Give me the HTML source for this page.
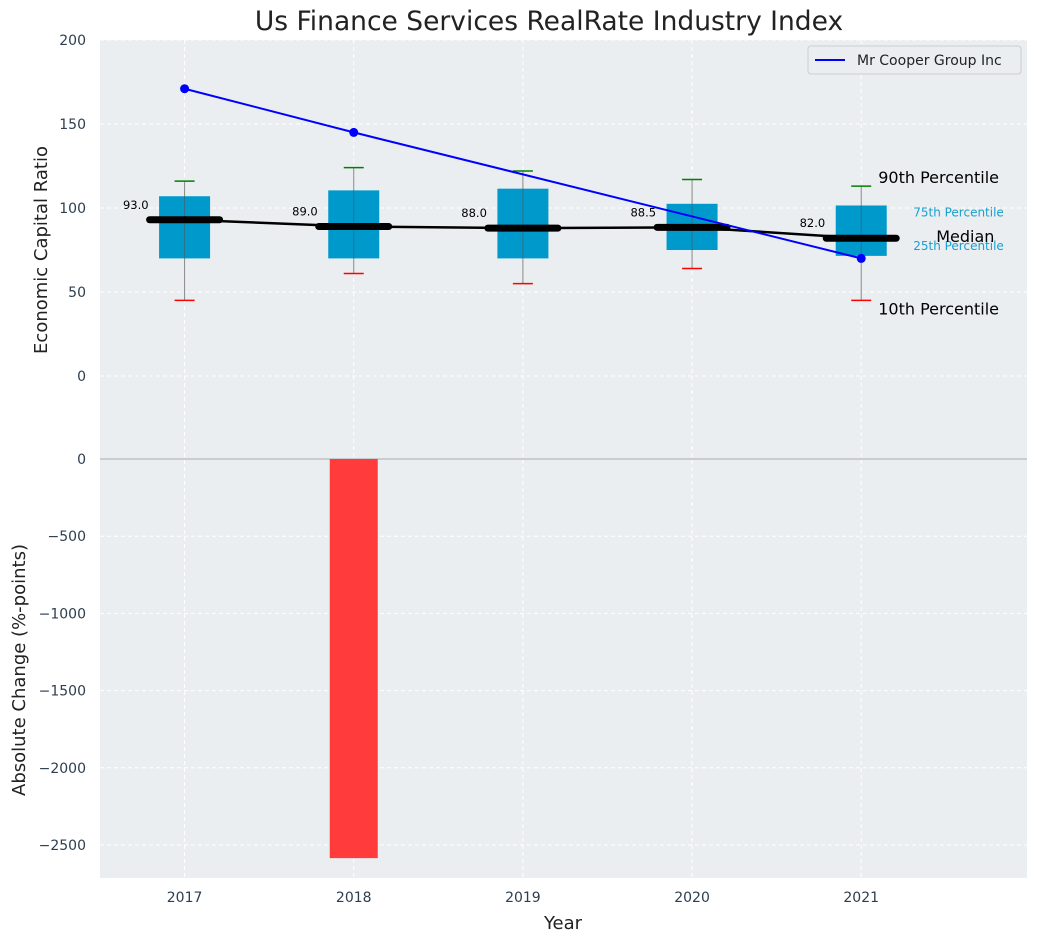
<!DOCTYPE html>
<html><head><meta charset="utf-8"><style>
body{margin:0;background:#fff;}
svg text{font-family:"DejaVu Sans","Liberation Sans",sans-serif;}
</style></head><body>
<svg id="c" width="1039" height="942" xmlns="http://www.w3.org/2000/svg"></svg>
<script>
const years=[2017,2018,2019,2020,2021];
const q1=[70,70,70,75,71.5];
const q3=[107,110.5,111.5,102.5,101.5];
const medians=[93,89,88,88.5,82];
const p10=[45,61,55,64,45];
const p90=[116,124,122,117,113];
const company=[171,145,null,null,70];
const changes=[0,-2585,0,0,0];
const topTicks=[0,50,100,150,200];
const botTicks=[0,-500,-1000,-1500,-2000,-2500];

const NS="http://www.w3.org/2000/svg";
const svg=document.getElementById('c');
function mk(t,a,p){const e=document.createElementNS(NS,t);for(const k in a)e.setAttribute(k,a[k]);(p||svg).appendChild(e);return e;}
const L=100,R=1027;
const x=v=>L+(v-2016.5)*(R-L)/(2021.98-2016.5);
const yT=v=>376-(v)*84/50;
const yb=v=>459+(-v)*(845-459)/2500;

const title=mk('text',{x:549,y:30,'text-anchor':'middle','font-size':26.5,fill:'#222'});title.textContent='Us Finance Services RealRate Industry Index';


const bgT=mk('rect',{x:L,y:40,width:R-L,height:419,fill:'#eaeef0'});

const bgB=mk('rect',{x:L,y:459,width:R-L,height:419,fill:'#eaeef0'});


years.forEach(yr=>{
 mk('line',{x1:x(yr),x2:x(yr),y1:40,y2:878,stroke:'#fff','stroke-dasharray':'4,3','stroke-width':1});
 const t=mk('text',{x:x(yr),y:902,'text-anchor':'middle','font-size':14,fill:'#2d3e50'});t.textContent=yr;
 
});
topTicks.forEach(v=>{
 mk('line',{x1:L,x2:R,y1:yT(v),y2:yT(v),stroke:'#fff','stroke-dasharray':'4,3'});
 const t=mk('text',{x:86,y:yT(v)+5,'text-anchor':'end','font-size':14,fill:'#2d3e50'});t.textContent=v;
 
});
botTicks.forEach(v=>{
 mk('line',{x1:L,x2:R,y1:yb(v),y2:yb(v),stroke:'#fff','stroke-dasharray':'4,3'});
 const t=mk('text',{x:86,y:yb(v)+5,'text-anchor':'end','font-size':14,fill:'#2d3e50'});t.textContent=v===0?'0':'\u2212'+(-v);
 
});
mk('line',{x1:L,x2:R,y1:459,y2:459,stroke:'#aaa','stroke-width':1});

changes.forEach((v,i)=>{ if(!v)return;
 const y0=yb(0),y1=yb(v);
 const b=mk('rect',{x:x(years[i])-24,y:Math.min(y0,y1),width:48,height:Math.abs(y1-y0),fill:'#ff3b3b'});
 
});

years.forEach((yr,i)=>{
 const cx=x(yr);
 mk('line',{x1:cx,x2:cx,y1:yT(p90[i]),y2:yT(p10[i]),stroke:'#888','stroke-width':1});
 const b=mk('rect',{x:cx-25.5,y:yT(q3[i]),width:51,height:yT(q1[i])-yT(q3[i]),fill:'#0099cc'});
 
 mk('line',{x1:cx,x2:cx,y1:yT(q3[i]),y2:yT(q1[i]),stroke:'#555','stroke-width':1,opacity:0.6});
 mk('line',{x1:cx-10,x2:cx+10,y1:yT(p90[i]),y2:yT(p90[i]),stroke:'green','stroke-width':1.5});
 mk('line',{x1:cx-10,x2:cx+10,y1:yT(p10[i]),y2:yT(p10[i]),stroke:'red','stroke-width':1.5});
});
let d='';years.forEach((yr,i)=>{d+=(i?'L':'M')+x(yr)+','+yT(medians[i]);});
const ml=mk('path',{d:d,stroke:'#000','stroke-width':2.5,fill:'none'});

years.forEach((yr,i)=>{
 const cx=x(yr);
 const m=mk('line',{x1:cx-35,x2:cx+35,y1:yT(medians[i]),y2:yT(medians[i]),stroke:'#000','stroke-width':7,'stroke-linecap':'round'});
 
 const t=mk('text',{x:cx-36,y:yT(medians[i])-11,'text-anchor':'end','font-size':11.5,fill:'#000'});t.textContent=medians[i].toFixed(1);
 
});
let cd='',first=true;
years.forEach((yr,i)=>{if(company[i]==null)return;cd+=(first?'M':'L')+x(yr)+','+yT(company[i]);first=false;});
const cl=mk('path',{d:cd,stroke:'#0000ff','stroke-width':2,fill:'none'});

years.forEach((yr,i)=>{if(company[i]==null)return;
 const c=mk('circle',{cx:x(yr),cy:yT(company[i]),r:4.5,fill:'#0000ff'});
 
});
const lx=x(2021);
[['90th Percentile',lx+17,yT(p90[4])-3,16,'#000'],['10th Percentile',lx+17,yT(p10[4])+14,16,'#000'],
 ['75th Percentile',lx+52,yT(q3[4])+11,12,'#1a9fcf'],['25th Percentile',lx+52,yT(q1[4])-6,12,'#1a9fcf'],
 ['Median',lx+75,yT(medians[4])+4,16,'#000']].forEach(a=>{
 const t=mk('text',{x:a[1],y:a[2],'font-size':a[3],fill:a[4]});t.textContent=a[0];
 
});
const lg=mk('g',{});
mk('rect',{x:808,y:46,width:213,height:28,rx:3,fill:'#eaeef0',stroke:'#ccc'},lg);
mk('line',{x1:815,x2:845,y1:60,y2:60,stroke:'#0000ff','stroke-width':2},lg);
const lt=mk('text',{x:857,y:65,'font-size':14,fill:'#222'},lg);lt.textContent='Mr Cooper Group Inc';
const at=mk('text',{x:0,y:0,'font-size':18,fill:'#222','text-anchor':'middle',transform:'translate(47,250) rotate(-90)'});at.textContent='Economic Capital Ratio';

const ab=mk('text',{x:0,y:0,'font-size':18,fill:'#222','text-anchor':'middle',transform:'translate(25,670) rotate(-90)'});ab.textContent='Absolute Change (%-points)';

const ax=mk('text',{x:563,y:929,'font-size':18,fill:'#222','text-anchor':'middle'});ax.textContent='Year';

</script>
</body></html>
